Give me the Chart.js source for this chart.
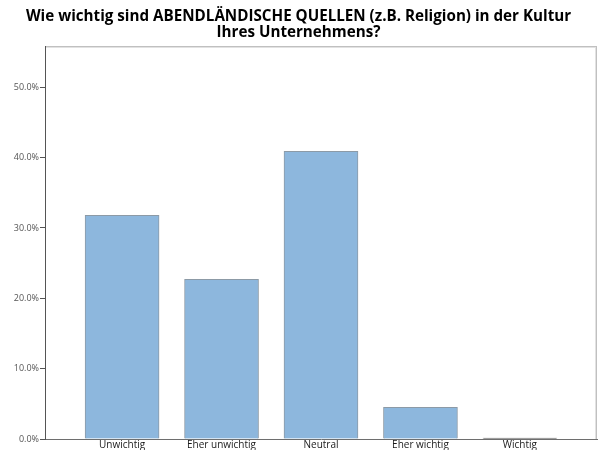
<!DOCTYPE html>
<html>
<head>
<meta charset="utf-8">
<script src="https://cdn.jsdelivr.net/npm/chart.js@4/dist/chart.umd.min.js"></script>
<style>
  html, body { margin: 0; padding: 0; background: #fff; }
  #wrap { width: 603px; height: 450px; }
</style>
</head>
<body>
<div id="wrap"><canvas id="myChart" width="603" height="450"></canvas></div>
<script>
var categories = ['Unwichtig', 'Eher unwichtig', 'Neutral', 'Eher wichtig', 'Wichtig'];
var percent = [31.8, 22.7, 40.9, 4.5, 0.0];
var yTicks = [0, 10, 20, 30, 40, 50];

var c = document.getElementById("myChart");
var ctx = c.getContext("2d");

// grey frame along the top and right of the plot area
var frame = {
    id: 'frame',
    afterDraw: function (chart) {
        var a = chart.chartArea;
        var g = chart.ctx;
        var l = Math.round(a.left), t = Math.round(a.top);
        var r = Math.round(a.right), b = Math.round(a.bottom);
        g.save();
        g.fillStyle = '#c0c0c0';
        g.fillRect(l + 1, t, r - l - 1, 1);
        g.fillRect(r - 1, t, 1, b - t);
        g.fillStyle = '#e2e2e2';
        g.fillRect(l + 1, t + 1, r - l - 2, 1);
        g.fillRect(r - 2, t + 1, 1, b - t - 1);
        g.restore();
    }
};

var chart = new Chart(ctx, {
    type: 'bar',
    data: {
        datasets: [{
            data: percent.map(function (v, i) { return { x: i, y: v }; }),
            // an empty category still shows as a thin dark line on the baseline
            backgroundColor: percent.map(function (v) { return v === 0 ? '#4a4a4a' : '#8db7dd'; }),
            borderColor: percent.map(function (v) { return v === 0 ? '#4a4a4a' : '#8c9aa6'; }),
            borderWidth: 1,
            borderSkipped: 'bottom',
            barThickness: 74,
            minBarLength: 1
        }]
    },
    plugins: [frame],
    options: {
        responsive: false,
        animation: false,
        layout: { padding: { left: 0, right: 6, top: 0, bottom: 0 } },
        plugins: {
            legend: { display: false },
            tooltip: { enabled: false },
            title: {
                display: true,
                text: ['Wie wichtig sind ABENDLÄNDISCHE QUELLEN (z.B. Religion) in der Kultur', 'Ihres Unternehmens?'],
                color: '#000',
                font: { family: 'Open Sans', size: 15.2, weight: 'bold', lineHeight: 1.1 },
                padding: { top: 8, bottom: 5 }
            }
        },
        scales: {
            x: {
                type: 'linear',
                offset: false,
                min: -0.775,
                max: 4.775,
                afterBuildTicks: function (scale) {
                    scale.ticks = categories.map(function (_, i) { return { value: i }; });
                },
                afterFit: function (scale) { scale.height = 11; },
                ticks: {
                    autoSkip: false,
                    maxRotation: 0,
                    padding: 1,
                    color: '#1a1a1a',
                    font: { family: 'Open Sans', size: 10, lineHeight: 1 },
                    callback: function (v) { return categories[v]; }
                },
                grid: { display: false, drawTicks: false, offset: false },
                border: { color: '#6e6e6e', width: 1 }
            },
            y: {
                min: 0,
                max: 55.8,
                afterBuildTicks: function (scale) {
                    scale.ticks = yTicks.map(function (v) { return { value: v }; });
                },
                afterFit: function (scale) { scale.width = 45; },
                ticks: {
                    padding: 1,
                    color: '#555',
                    font: { family: 'Open Sans', size: 9 },
                    callback: function (v) { return v.toFixed(1) + '%'; }
                },
                grid: {
                    drawOnChartArea: false,
                    drawTicks: true,
                    tickLength: 5,
                    color: '#555'
                },
                border: { color: '#555', width: 1 }
            }
        }
    }
});
</script>
</body>
</html>
